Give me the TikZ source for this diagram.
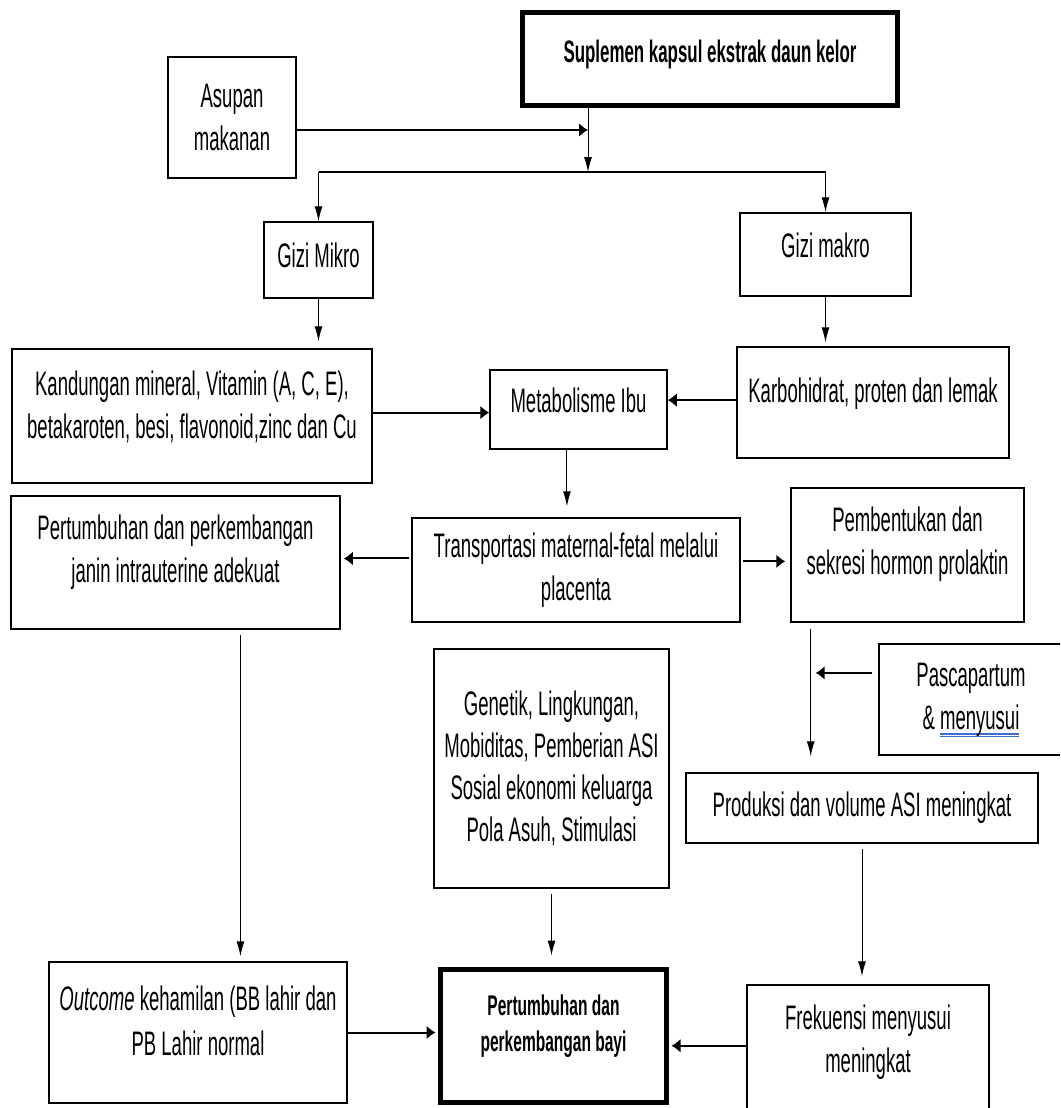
\documentclass[tikz,border=0pt]{standalone}
\usepackage{fontspec}
\setmainfont{Liberation Sans}[FakeStretch=0.545]
\usetikzlibrary{arrows.meta}
\definecolor{spellblue}{RGB}{60,110,210}
\newcommand\spellmark[1]{\setbox0\hbox{#1}%
  \rlap{\smash{\color{spellblue}\rule[-5.5pt]{\wd0}{1.2pt}}}%
  \rlap{\smash{\color{spellblue}\rule[-8.3pt]{\wd0}{1.2pt}}}\box0}

\begin{document}
\begin{tikzpicture}[x=1pt, y=-1pt,
    box/.style={draw, line width=1.5pt, align=center, inner sep=0pt,
      font={\fontsize{34}{43}\selectfont}},
    mainbox/.style={box, line width=5pt, font={\fontsize{28.5}{36}\selectfont\bfseries}},
    hi/.style={text depth=#1}, hi/.default=22pt,
    vflow/.style={-{Latex[length=15pt,width=8pt]}, line width=1pt},
    hflow/.style={-{Latex[length=9pt,width=14pt]}, line width=2pt}]
  \clip (0,0) rectangle (1060,1108);
  \fill[white] (0,0) rectangle (1060,1108);
  \draw
    (710,59) node[mainbox, font={\fontsize{31}{36}\selectfont\bfseries},
      minimum width=375pt, minimum height=93pt, hi=16pt] (sup)
      {Suplemen kapsul ekstrak daun kelor}
    (232,117.5) node[box, minimum width=128pt, minimum height=121pt] (asupan)
      {Asupan\\makanan}
    (318.5,260) node[box, minimum width=109pt, minimum height=76pt, hi=10pt] (mikro)
      {Gizi Mikro}
    (825.5,254.5) node[box, minimum width=171pt, minimum height=83pt, hi=19pt] (makro)
      {Gizi makro}
    (192,416) node[box, minimum width=360pt, minimum height=134pt, hi] (kand)
      {Kandungan mineral, Vitamin (A, C, E),\\betakaroten, besi, flavonoid,zinc dan Cu}
    (578.5,409.5) node[box, minimum width=177pt, minimum height=79pt, hi=19pt] (metab)
      {Metabolisme Ibu}
    (873,402.5) node[box, minimum width=272pt, minimum height=111pt, hi=24pt] (karbo)
      {Karbohidrat, proten dan lemak}
    (175.5,562.5) node[box, minimum width=329pt, minimum height=133pt, hi=27pt] (janin)
      {Pertumbuhan dan perkembangan\\janin intrauterine adekuat}
    (576,570) node[box, minimum width=328pt, minimum height=104pt] (trans)
      {Transportasi maternal-fetal melalui\\placenta}
    (907.5,555) node[box, minimum width=233pt, minimum height=134pt, hi=28pt] (pemb)
      {Pembentukan dan\\sekresi hormon prolaktin}
    (971,699.5) node[box, minimum width=184pt, minimum height=111pt] (pasca)
      {Pascapartum\\\& \spellmark{menyusui}}
    (551.5,768.5) node[box, font={\fontsize{34}{42}\selectfont},
      minimum width=235pt, minimum height=239pt] (genetik)
      {Genetik, Lingkungan,\\Mobiditas, Pemberian ASI\\Sosial ekonomi keluarga\\Pola Asuh, Stimulasi}
    (862,808) node[box, minimum width=352pt, minimum height=70pt] (prod)
      {Produksi dan volume ASI meningkat}
    (198,1032.5) node[box, font={\fontsize{34}{45}\selectfont},
      minimum width=298pt, minimum height=141pt, hi=24pt] (outcome)
      {\textit{Outcome} kehamilan (BB lahir dan\\PB Lahir normal}
    (553.5,1036) node[mainbox, minimum width=226pt, minimum height=133pt, hi=26pt] (bayi)
      {Pertumbuhan dan\\perkembangan bayi}
    (868,1050) node[box, minimum width=242pt, minimum height=130pt, hi] (frek)
      {Frekuensi menyusui\\meningkat};
  \coordinate (mix) at (588,130);
  \coordinate (split) at (588,172);
  \begin{scope}[vflow]
    \draw (sup.south -| split) to (split);
    \draw (split -| mikro) to (mikro.north);
    \draw (split -| makro) to (makro.north);
    \draw[shorten >=7pt] (mikro.south) to (mikro.south |- kand.north);
    \draw[shorten >=4pt] (makro.south) to (makro.south |- karbo.north);
    \draw[shorten >=11pt] (metab.254) to (metab.254 |- trans.north);
    \draw[shorten <=5pt, shorten >=5pt] (janin.314) to (janin.314 |- outcome.north);
    \draw[shorten <=6pt, shorten >=16pt] (pemb.215) to (pemb.215 |- prod.north);
    \draw[shorten <=5pt, shorten >=11.5pt] (genetik.south) to (genetik.south |- bayi.north);
    \draw[shorten <=5pt, shorten >=8pt] (prod.south) to (prod.south |- frek.north);
  \end{scope}
  \draw[line width=2pt] (split -| mikro) to (split -| makro);
  \begin{scope}[hflow]
    \draw (asupan.east |- mix) to (mix);
    \draw (kand.east |- metab.182) to (metab.182);
    \draw (karbo.west |- metab.6) to (metab.6);
    \draw[shorten <=2pt, shorten >=3pt] (trans.176) to (trans.176 -| janin.east);
    \draw[shorten <=2pt, shorten >=5pt] (trans.3) to (trans.3 -| pemb.west);
    \draw[line width=1.5pt, shorten <=6pt, shorten >=5pt] (pasca.164) to (pasca.164 -| pemb.215);
    \draw[shorten >=2.5pt] (outcome.east) to (outcome.east -| bayi.west);
    \draw[shorten >=2.5pt] (frek.178) to (frek.178 -| bayi.east);
  \end{scope}
\end{tikzpicture}
\end{document}
